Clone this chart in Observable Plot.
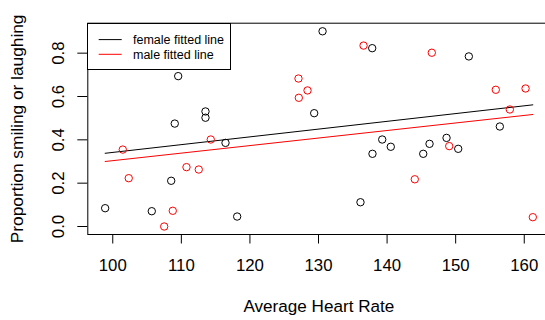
<!DOCTYPE html>
<html>
<head>
<meta charset="utf-8">
<script src="https://cdn.jsdelivr.net/npm/d3@7"></script>
<script src="https://cdn.jsdelivr.net/npm/@observablehq/plot@0.6"></script>
<style>
  html, body { margin: 0; padding: 0; background: #fff; overflow: hidden; }
  #wrap { position: relative; width: 545px; height: 320px; font-family: "Liberation Sans", Arial, sans-serif; }
  #legend { position: absolute; box-sizing: border-box; background: #fff; border: 1px solid #000; }
  #legend svg { display: block; }
</style>
</head>
<body>
<div id="wrap"></div>
<script>
// Female (black) observations
const femaleX = [109.54, 129.37, 113.52, 113.52, 109.04, 130.59, 137.83, 151.92, 156.44, 116.44, 108.52, 98.89, 105.69, 118.14, 139.29, 137.87, 140.54, 146.19, 145.27, 148.67, 150.37, 136.12];
const femaleY = [0.694, 0.523, 0.531, 0.502, 0.475, 0.901, 0.823, 0.785, 0.4615, 0.386, 0.211, 0.0845, 0.0706, 0.046, 0.4015, 0.3355, 0.368, 0.3815, 0.3355, 0.409, 0.3585, 0.112];
// Male (red) observations
const maleX = [127.08, 128.4, 127.13, 136.57, 146.52, 155.85, 160.19, 157.9, 101.46, 114.29, 110.75, 112.54, 102.33, 108.75, 107.5, 149.06, 144.04, 161.25];
const maleY = [0.683, 0.628, 0.594, 0.835, 0.802, 0.631, 0.637, 0.540, 0.355, 0.4015, 0.274, 0.263, 0.223, 0.0725, 0.0, 0.371, 0.218, 0.043];
// Fitted lines (endpoints over the data range)
const fitX = [98.89, 161.25];
const femaleFit = [0.338, 0.5615];
const maleFit = [0.300, 0.517];
// Axes
const xTicks = [100, 110, 120, 130, 140, 150, 160];
const yTicks = [0, 0.2, 0.4, 0.6, 0.8];
const xLabel = "Average Heart Rate";
const yLabel = "Proportion smiling or laughing";
const legendLabels = ["female fitted line", "male fitted line"];
const legendColors = ["#000000", "#ff0000"];

const female = femaleX.map((x, i) => ({x, y: femaleY[i]}));
const male = maleX.map((x, i) => ({x, y: maleY[i]}));
const femaleLine = fitX.map((x, i) => ({x, y: femaleFit[i]}));
const maleLine = fitX.map((x, i) => ({x, y: maleFit[i]}));

const W = 545, H = 320;
const mL = 87.3, mT = 22.7, mB = 86, mR = -4.4;

const chart = Plot.plot({
  width: W,
  height: H,
  marginLeft: mL,
  marginTop: mT,
  marginBottom: mB,
  marginRight: mR,
  style: {fontFamily: "'Liberation Sans', Arial, sans-serif", fontSize: "16.8px", color: "#000", background: "#fff", overflow: "visible"},
  x: {domain: [96.36, 163.74]},
  y: {domain: [-0.0369, 0.9383]},
  marks: [
    Plot.frame({stroke: "#000", strokeWidth: 1}),
    Plot.axisX({ticks: xTicks, tickSize: 9.5, tickPadding: 15.4, tickFormat: d3.format("d"), label: null, stroke: "#000", fill: "#000", strokeOpacity: 1}),
    Plot.axisY({ticks: yTicks, tickSize: 10, tickFormat: () => "", label: null, stroke: "#000", strokeOpacity: 1}),
    Plot.text(yTicks, {y: d => d, text: d => d3.format(".1f")(d), frameAnchor: "left", rotate: -90, dx: -23.5, textAnchor: "middle", lineAnchor: "bottom", fontSize: 16.8, fill: "#000"}),
    Plot.text([xLabel], {frameAnchor: "bottom", dy: 77.6, textAnchor: "middle", lineAnchor: "bottom", fontSize: 17.1, fill: "#000"}),
    Plot.text([yLabel], {frameAnchor: "left", rotate: -90, dx: -64.5, textAnchor: "middle", lineAnchor: "bottom", fontSize: 17.3, fill: "#000"}),
    Plot.line(femaleLine, {x: "x", y: "y", stroke: legendColors[0], strokeWidth: 1}),
    Plot.line(maleLine, {x: "x", y: "y", stroke: legendColors[1], strokeWidth: 1}),
    Plot.dot(female, {x: "x", y: "y", r: 3.7, stroke: legendColors[0], fill: "none", strokeWidth: 1}),
    Plot.dot(male, {x: "x", y: "y", r: 3.7, stroke: legendColors[1], fill: "none", strokeWidth: 1})
  ]
});

const wrap = document.getElementById("wrap");
wrap.appendChild(chart);

// Legend (top-left, inside the plot frame)
const legend = document.createElement("div");
legend.id = "legend";
legend.style.left = mL + "px";
legend.style.top = mT + "px";
legend.style.width = (231 - mL) + "px";
legend.style.height = (70.3 - mT) + "px";
const ns = "http://www.w3.org/2000/svg";
const lsvg = document.createElementNS(ns, "svg");
lsvg.setAttribute("width", 231 - mL - 2);
lsvg.setAttribute("height", 70.3 - mT - 2);
legendLabels.forEach((lab, i) => {
  const yy = 15.6 + i * 14.7;
  const ln = document.createElementNS(ns, "line");
  ln.setAttribute("x1", 10.7); ln.setAttribute("x2", 33.7);
  ln.setAttribute("y1", yy); ln.setAttribute("y2", yy);
  ln.setAttribute("stroke", legendColors[i]); ln.setAttribute("stroke-width", 1);
  lsvg.appendChild(ln);
  const tx = document.createElementNS(ns, "text");
  tx.setAttribute("x", 45);
  tx.setAttribute("y", yy + 4.3);
  tx.setAttribute("font-size", "12.5px");
  tx.setAttribute("font-family", "'Liberation Sans', Arial, sans-serif");
  tx.setAttribute("fill", "#000");
  tx.textContent = lab;
  lsvg.appendChild(tx);
});
legend.appendChild(lsvg);
wrap.appendChild(legend);
</script>
</body>
</html>
